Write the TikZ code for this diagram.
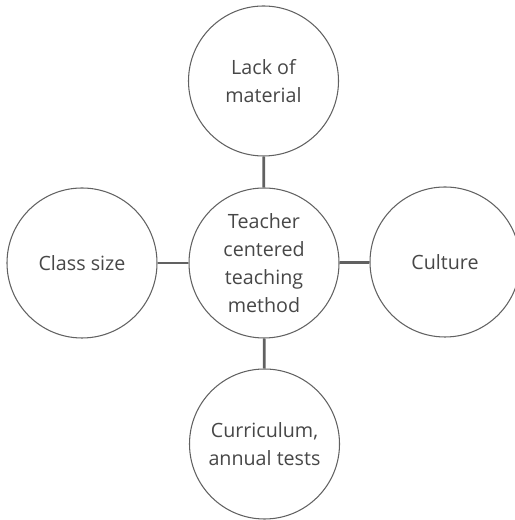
\documentclass[tikz,border=0pt]{standalone}
\usepackage{fontspec}
\setmainfont{Open Sans}
\begin{document}
\begin{tikzpicture}[
	bubble/.style={circle,draw=black!62,line width=0.6pt,minimum size=3cm,inner sep=0pt,align=center,text=black!72,font=\fontsize{11.2}{16}\selectfont},
	link/.style={draw=black!62,line width=1.6pt}]
		\useasboundingbox (0,0) rectangle (10.28,10.4);
		
		\node[bubble] (mid) at (5.28,5.14) {Teacher\\centered\\teaching\\method};
		\node[bubble] (top) at (5.27,8.78) {Lack of\\material};
		\node[bubble] (bot) at (5.29,1.52) {Curriculum,\\annual tests};
		\node[bubble] (lft) at (1.64,5.14) {Class size};
		\node[bubble] (rgt) at (8.90,5.16) {Culture};
		
		\draw[link] (mid) -- (top);
		\draw[link] (mid) -- (bot);
		\draw[link] (mid) -- (lft);
		\draw[link] (mid) -- (rgt);
	\end{tikzpicture}
\end{document}
